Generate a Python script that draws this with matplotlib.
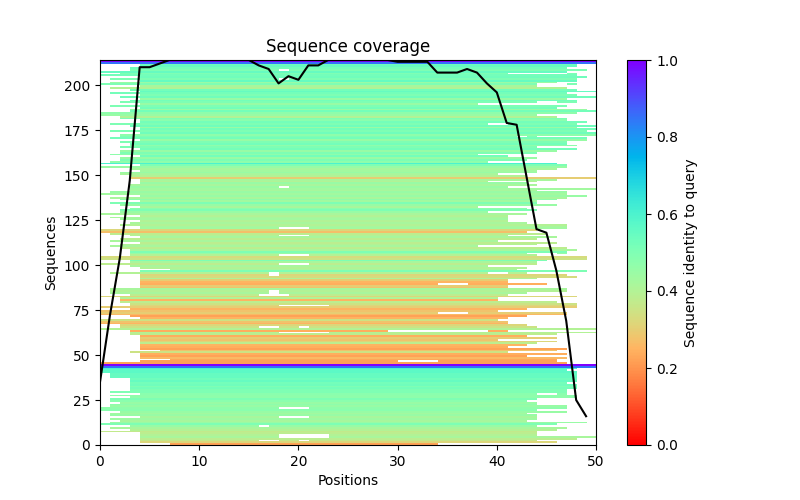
import numpy as np
import matplotlib
matplotlib.use("Agg")
import matplotlib.pyplot as plt

N_POS = 50

# rows of the upper alignment group, listed top-down: (first column, end column, identity)
upper_rows = [
    (0, 50, 1.00), (0, 50, 0.85),
    # 211-200
    (4, 48, .53), (4, 48, .55), (3, 47, .52), (3, 49, .50), (0, 47, .55), (2, 41, .50),
    (0, 48, .52), (4, 49, .53), (1, 48, .50), (4, 48, .55), (1, 46, .45), (0, 44, .50),
    # 199-188
    (4, 44, .42), (1, 47, .40), (3, 48, .52), (4, 50, .55), (1, 47, .52), (4, 48, .50),
    (2, 50, .53), (4, 47, .45), (3, 48, .52), (2, 44, .50), (4, 38, .45), (1, 47, .50),
    # 187-176
    (4, 46, .52), (3, 49, .45), (3, 50, .52), (0, 48, .47), (0, 44, .45), (2, 46, .40),
    (2, 47, .50), (4, 47, .48), (4, 49, .52), (1, 48, .50), (3, 50, .53), (4, 48, .45),
    # 175-164
    (4, 50, .52), (1, 49, .50), (4, 50, .53), (2, 50, .47), (2, 42, .50), (1, 49, .52),
    (4, 49, .45), (2, 47, .50), (3, 47, .52), (3, 48, .47), (2, 44, .50), (4, 48, .52),
    # 163-152
    (2, 46, .45), (2, 44, .50), (1, 38, .47), (4, 41, .52), (2, 44, .45), (2, 43, .50),
    (1, 39, .47), (0, 46, .60), (4, 47, .50), (0, 47, .45), (3, 46, .42), (4, 44, .43),
    # 151-140
    (2, 44, .45), (2, 40, .42), (3, 43, .40), (3, 50, .30), (4, 46, .42), (4, 39, .40),
    (4, 43, .45), (3, 44, .42), (3, 41, .45), (3, 50, .43), (3, 44, .42), (1, 47, .45),
    # 139-128
    (0, 47, .43), (4, 49, .45), (1, 47, .42), (2, 46, .47), (4, 44, .43), (1, 44, .50),
    (2, 46, .45), (4, 38, .42), (3, 43, .47), (2, 44, .50), (2, 39, .45), (0, 43, .42),
    # 127-116
    (4, 41, .40), (1, 41, .42), (2, 41, .43), (4, 41, .40), (3, 43, .42), (2, 47, .40),
    (4, 47, .42), (4, 47, .43), (0, 44, .32), (0, 43, .27), (1, 45, .38), (3, 41, .40),
    # 115-103
    (4, 46, .42), (2, 44, .38), (1, 40, .42), (4, 46, .38), (2, 44, .40), (1, 38, .42),
    (2, 47, .38), (3, 48, .42), (3, 47, .50), (3, 43, .45), (3, 44, .40), (0, 49, .33),
    (0, 49, .35),
    # 102-91
    (3, 45, .50), (3, 44, .42), (0, 44, .38), (3, 39, .42), (4, 43, .40), (7, 42, .42),
    (4, 49, .50), (1, 43, .40), (4, 47, .32), (4, 48, .33), (4, 44, .40), (4, 41, .30),
    # 90-79
    (4, 41, .25), (4, 45, .24), (4, 41, .30), (4, 41, .28), (1, 47, .42), (1, 47, .40),
    (1, 43, .42), (3, 41, .38), (0, 48, .32), (2, 40, .40), (2, 40, .25), (2, 46, .38),
    # 78-67
    (3, 48, .35), (3, 48, .32), (0, 48, .30), (3, 43, .25), (0, 40, .28), (0, 47, .30),
    (0, 47, .26), (3, 43, .22), (4, 41, .25), (0, 40, .35), (0, 41, .28), (0, 41, .25),
    # 66-55
    (2, 43, .32), (2, 44, .35), (0, 50, .40), (3, 29, .24), (3, 50, .40), (3, 46, .38),
    (4, 43, .24), (4, 46, .30), (4, 40, .28), (4, 46, .32), (4, 44, .38), (4, 43, .25),
    # 54-45
    (4, 41, .24), (4, 47, .22), (6, 46, .28), (3, 41, .35), (4, 47, .24), (4, 43, .22),
    (4, 47, .26), (7, 46, .23), (4, 46, .22), (0, 47, .22),
]

# rows of the lower alignment group, listed top-down
lower_rows = [
    (0, 50, 1.00), (0, 50, 0.85),
    (0, 48, .60), (0, 47, .57), (0, 48, .57), (1, 48, .55), (1, 48, .55), (1, 48, .55),
    (3, 48, .53), (3, 48, .55), (3, 47, .52), (3, 48, .53), (3, 48, .50), (3, 48, .52),
    (3, 47, .50), (1, 47, .50), (4, 44, .48), (1, 48, .47), (3, 48, .47), (1, 44, .50),
    (1, 43, .48), (2, 44, .45), (1, 44, .47), (1, 47, .45), (0, 47, .47), (0, 44, .48),
    (2, 47, .45), (1, 43, .43), (1, 44, .45), (4, 44, .42), (1, 44, .44), (2, 43, .42),
    (1, 49, .45), (0, 46, .50), (3, 44, .45), (1, 47, .42), (3, 46, .40), (0, 44, .37),
    (4, 44, .38), (4, 44, .40), (4, 50, .42), (4, 48, .38), (4, 44, .36), (4, 46, .32),
    (7, 34, .22),
]

# extra aligned pieces beyond a gap: (row, first column, end column)
extra_pieces = [(206, 47, 48), (200, 47, 48), (190, 46, 48), (171, 43, 44),
                (146, 43, 44), (106, 46, 47), (63, 39, 41), (28, 46, 47)]

# unaligned holes inside rows: (row, first column, end column)
holes = [(208, 18, 19), (203, 18, 19), (178, 39, 41), (143, 18, 19), (120, 18, 21),
         (116, 18, 21), (105, 18, 21), (100, 18, 21), (95, 17, 18), (95, 39, 41),
         (94, 17, 18), (89, 34, 37), (85, 17, 18), (84, 17, 18), (83, 16, 19),
         (77, 18, 23), (73, 34, 37), (65, 16, 18), (65, 20, 21), (62, 18, 23),
         (46, 30, 34), (20, 18, 21), (15, 18, 21), (10, 16, 17), (5, 18, 23),
         (4, 18, 23), (2, 16, 18), (2, 20, 21)]

# number of aligned sequences at each position
coverage = [35, 72, 104, 147, 210, 210, 212,
            214, 214, 214, 214, 214, 214, 214, 214, 214,
            211, 209, 201, 205, 203, 211, 211,
            214, 214, 214, 214, 214, 214, 214,
            213, 213, 213, 213,
            207, 207, 207, 209, 207, 201, 196, 179, 178, 149, 120, 118, 97, 69, 25, 16]

rows = lower_rows[::-1] + upper_rows[::-1]
lines = np.full((len(rows), N_POS), np.nan)
for r, (c0, c1, ident) in enumerate(rows):
    lines[r, c0:c1] = ident
for r, c0, c1 in extra_pieces:
    lines[r, c0:c1] = rows[r][2]
for r, c0, c1 in holes:
    lines[r, c0:c1] = np.nan

plt.figure(figsize=(8, 5), dpi=100)
plt.title("Sequence coverage")
plt.imshow(lines, interpolation="nearest", aspect="auto", cmap="rainbow_r",
           vmin=0, vmax=1, origin="lower", extent=(0, N_POS, 0, lines.shape[0]))
plt.plot(coverage, color="black")
plt.xlim(0, N_POS)
plt.ylim(0, lines.shape[0])
plt.colorbar(label="Sequence identity to query")
plt.xlabel("Positions")
plt.ylabel("Sequences")
plt.savefig("out.png")
